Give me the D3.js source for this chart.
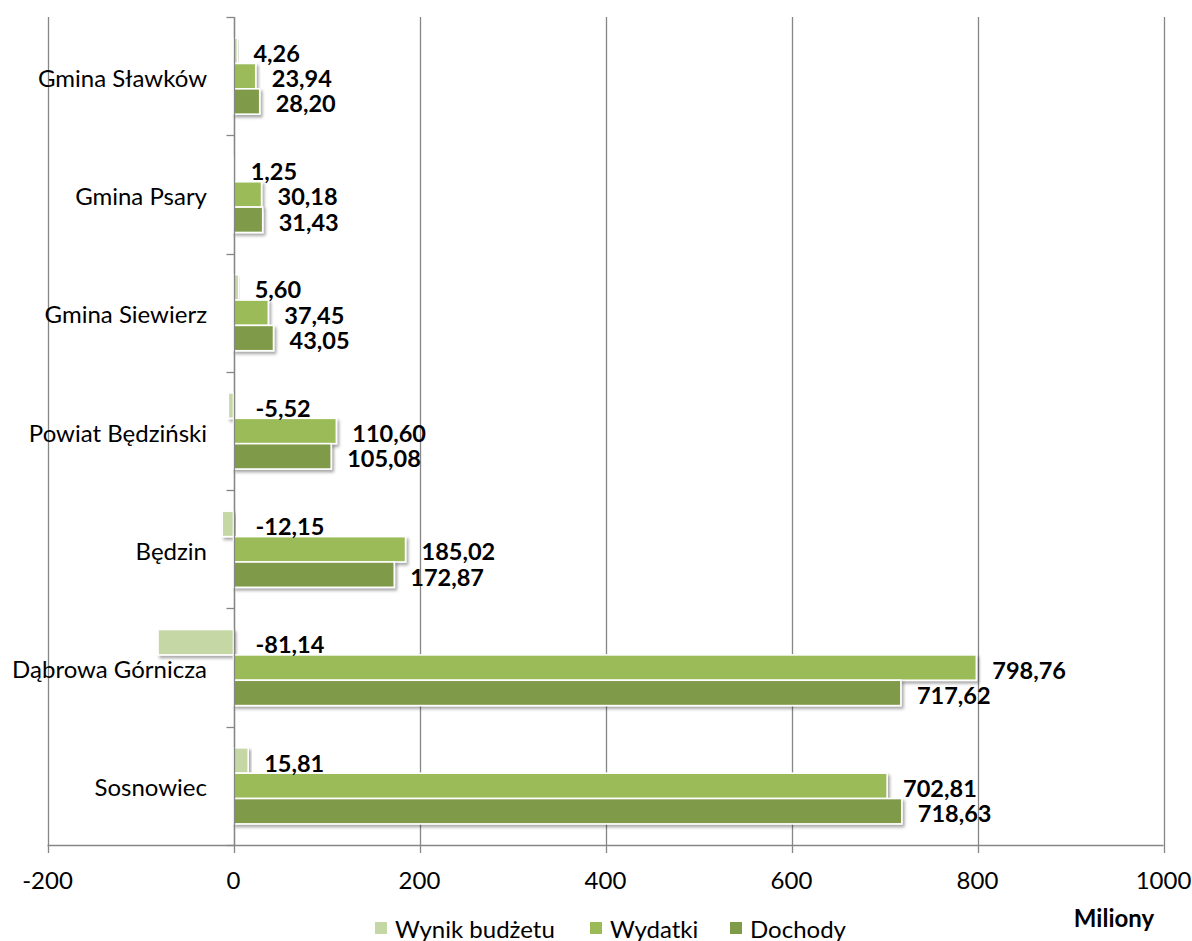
<!DOCTYPE html>
<html>
<head>
<meta charset="utf-8">
<script src="https://cdn.jsdelivr.net/npm/d3@7"></script>
<style>
  html, body { margin: 0; padding: 0; background: #fff; }
  svg { display: block; font-family: Lato, "Open Sans", sans-serif; }
</style>
</head>
<body>
<svg id="chart" width="1192" height="941"></svg>
<script>
'use strict';

// data (millions PLN)
const categories = ['Gmina Sławków', 'Gmina Psary', 'Gmina Siewierz', 'Powiat Będziński', 'Będzin', 'Dąbrowa Górnicza', 'Sosnowiec'];
const seriesNames = ['Wynik budżetu', 'Wydatki', 'Dochody'];
const wynik = [4.26, 1.25, 5.60, -5.52, -12.15, -81.14, 15.81];
const wydatki = [23.94, 30.18, 37.45, 110.60, 185.02, 798.76, 702.81];
const dochody = [28.20, 31.43, 43.05, 105.08, 172.87, 717.62, 718.63];
const xTicks = [-200, 0, 200, 400, 600, 800, 1000];
const colors = ['#c4d7a4', '#9bbb59', '#7f9b49'];

const seriesValues = [wynik, wydatki, dochody];

let svg = d3.select('#chart');

let x = d3.scaleLinear().domain([-200, 1000]).range([47.5, 1163.5]),
	y = d3.scaleBand().domain(categories).range([17, 845]).paddingInner(0.357).paddingOuter(0.1785),
	ySub = d3.scaleBand().domain(seriesNames).range([0, y.bandwidth()]);

// drop shadow like the office chart
let defs = svg.append('defs');
defs.append('filter').attr('id', 'shadow')
	.attr('x', '-10%').attr('y', '-30%').attr('width', '130%').attr('height', '180%')
	.append('feDropShadow')
	.attr('dx', 2).attr('dy', 2.5).attr('stdDeviation', 1.6)
	.attr('flood-color', '#000').attr('flood-opacity', 0.35);

const gridColor = '#868686';

// vertical gridlines (with outward tick below the axis)
svg.append('g').selectAll('line').data(xTicks).join('line')
	.attr('x1', d => Math.round(x(d)) + 0.5).attr('x2', d => Math.round(x(d)) + 0.5)
	.attr('y1', 17).attr('y2', 853)
	.attr('stroke', gridColor).attr('stroke-width', 1.3);

// x axis line
svg.append('line')
	.attr('x1', x(-200)).attr('x2', x(1000))
	.attr('y1', 845.5).attr('y2', 845.5)
	.attr('stroke', gridColor).attr('stroke-width', 1.3);

// y axis ticks to the left at category boundaries
let x0 = Math.round(x(0)) + 0.5;
let boundaries = d3.range(categories.length + 1).map(i => 17 + i * y.step());
svg.append('g').selectAll('line').data(boundaries).join('line')
	.attr('x1', x0 - 8).attr('x2', x0)
	.attr('y1', d => Math.round(d) + 0.5).attr('y2', d => Math.round(d) + 0.5)
	.attr('stroke', gridColor).attr('stroke-width', 1.3);

// tick labels
svg.append('g').selectAll('text').data(xTicks).join('text')
	.attr('x', d => x(d)).attr('y', 879)
	.attr('text-anchor', 'middle').attr('dominant-baseline', 'central')
	.style('font-size', '24px').attr('fill', '#000')
	.text(d => d);

svg.append('g').selectAll('text').data(categories).join('text')
	.attr('x', 207).attr('y', d => y(d) + y.bandwidth() / 2 + 1)
	.attr('text-anchor', 'end').attr('dominant-baseline', 'central')
	.style('font-size', '24px').attr('fill', '#000')
	.text(d => d);

// bars
let rows = [];
seriesNames.forEach((s, si) => {
	categories.forEach((c, ci) => {
		rows.push({ series: s, si, cat: c, value: seriesValues[si][ci] });
	});
});

svg.append('g').selectAll('rect').data(rows).join('rect')
	.attr('x', d => x(Math.min(0, d.value)))
	.attr('width', d => Math.abs(x(d.value) - x(0)))
	.attr('y', d => y(d.cat) + ySub(d.series))
	.attr('height', ySub.bandwidth())
	.attr('fill', d => colors[d.si])
	.attr('stroke', '#fff').attr('stroke-width', 1.6)
	.attr('filter', 'url(#shadow)');

// y axis line over the bars' left edges
svg.append('line')
	.attr('x1', x0).attr('x2', x0)
	.attr('y1', 17).attr('y2', 845)
	.attr('stroke', gridColor).attr('stroke-width', 1.3);

// value labels
const fmt = v => v.toFixed(2).replace('.', ',');
svg.append('g').selectAll('text').data(rows).join('text')
	.attr('x', d => d.value >= 0 ? x(d.value) + 16 : x(0) + 22)
	.attr('y', d => y(d.cat) + ySub(d.series) + ySub.bandwidth() / 2 + 2)
	.attr('dominant-baseline', 'central')
	.style('font-size', '23.5px').style('font-weight', 'bold').attr('fill', '#000')
	.text(d => fmt(d.value));

// unit title
svg.append('text')
	.attr('x', 1114).attr('y', 917)
	.attr('text-anchor', 'middle').attr('dominant-baseline', 'central')
	.style('font-size', '24px').style('font-weight', 'bold')
	.text('Miliony');

// legend
const legendX = [375, 590, 730];
let legend = svg.append('g').selectAll('g').data(seriesNames).join('g')
	.attr('transform', (d, i) => `translate(${legendX[i]},927)`);
legend.append('rect')
	.attr('x', 0).attr('y', -5).attr('width', 12).attr('height', 12)
	.attr('fill', (d, i) => colors[i]);
legend.append('text')
	.attr('x', 20).attr('y', 1)
	.attr('dominant-baseline', 'central')
	.style('font-size', '24px')
	.text(d => d);
</script>
</body>
</html>
